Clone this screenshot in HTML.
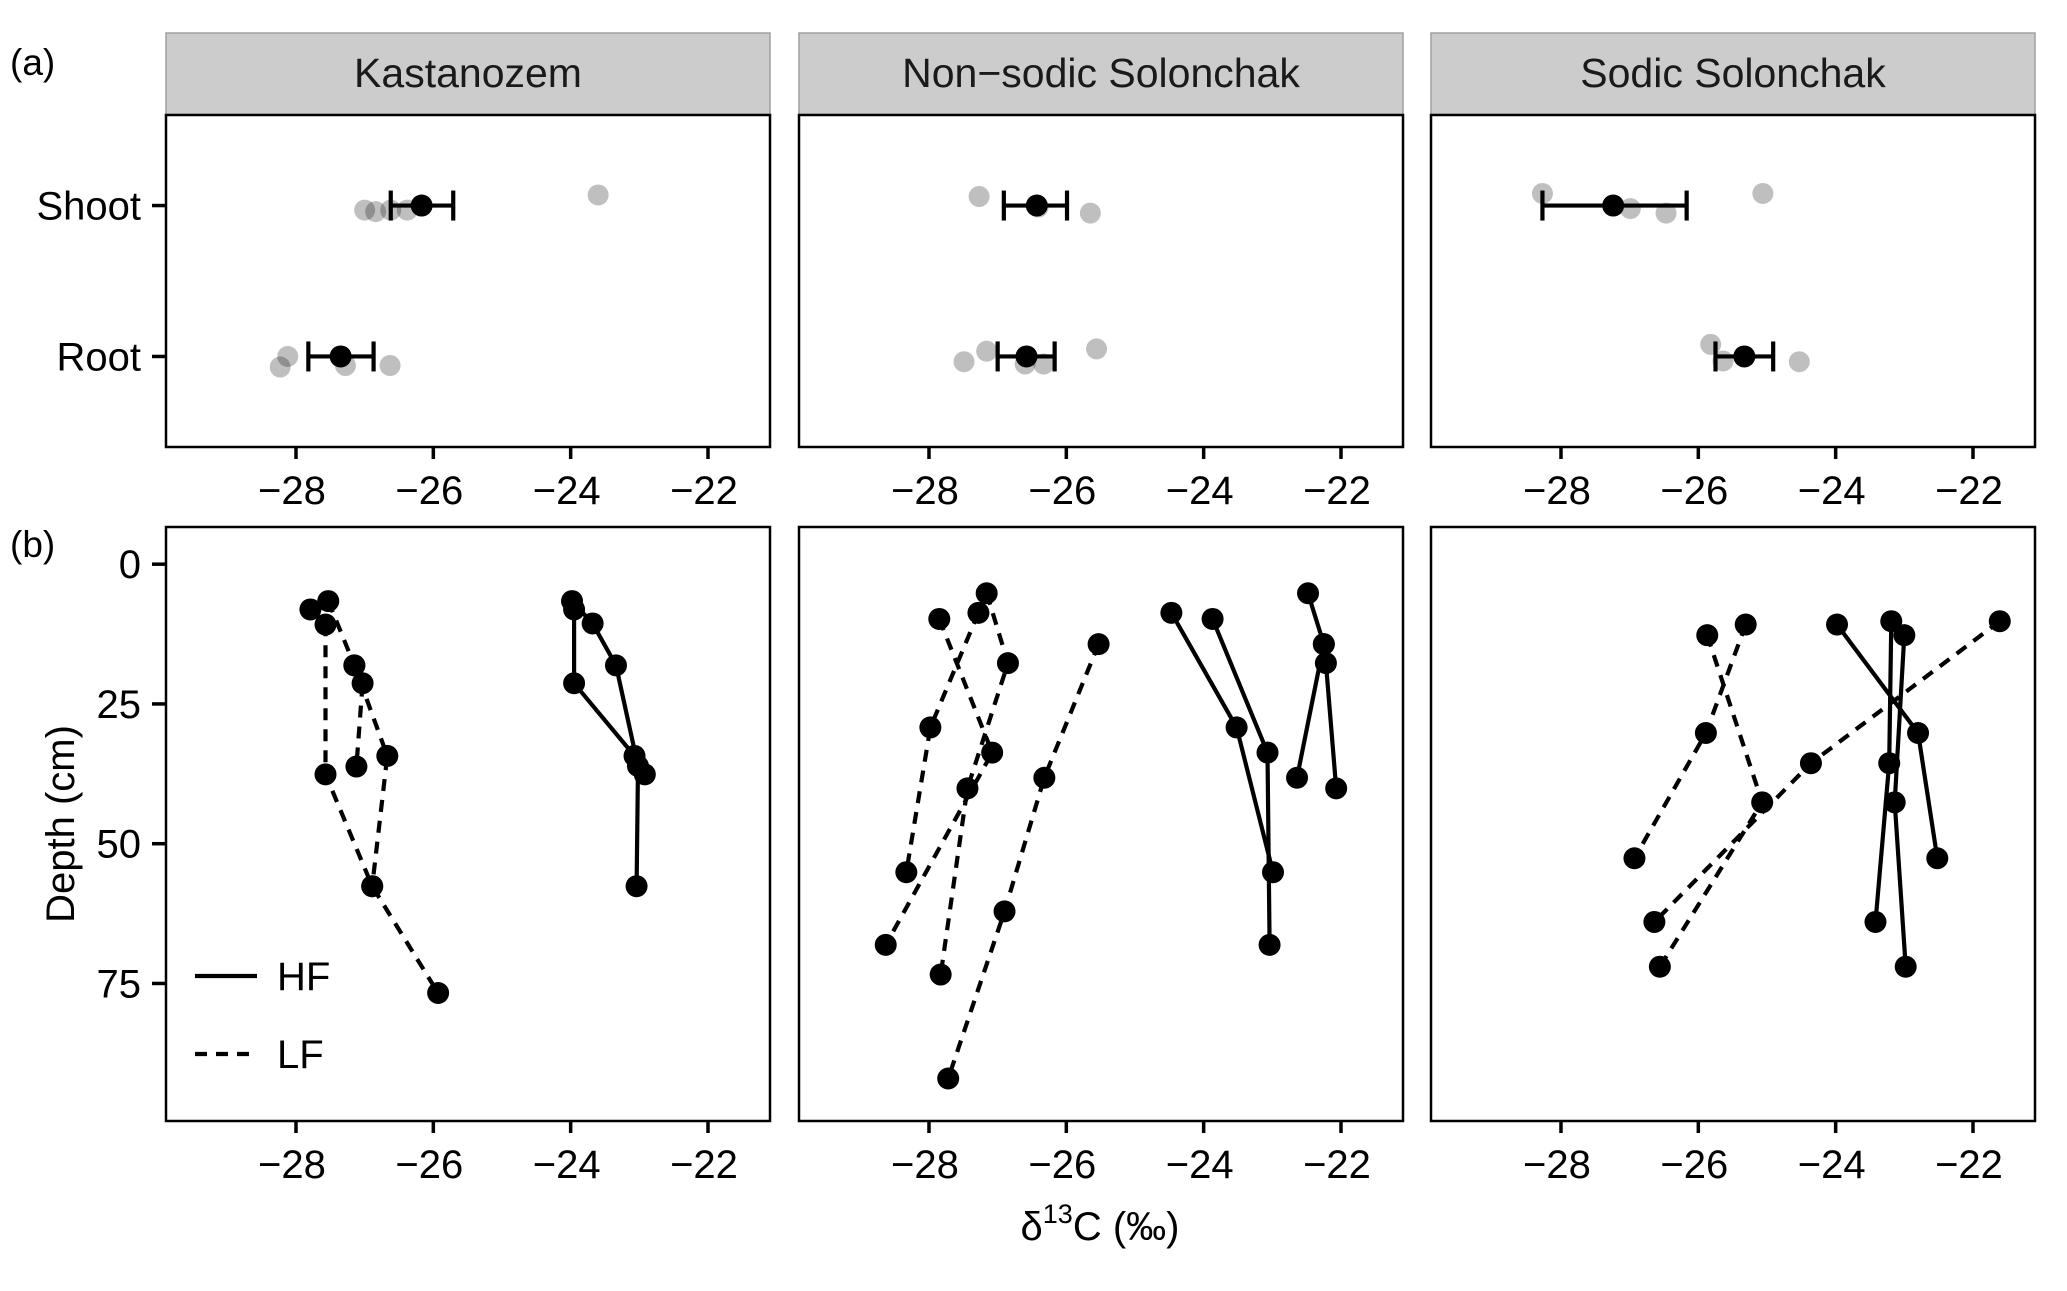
<!DOCTYPE html>
<html><head><meta charset="utf-8"><style>
html,body{margin:0;padding:0;background:#fff}
svg{display:block}
text{font-family:"Liberation Sans",Arial,sans-serif}
</style></head><body>
<svg id="chart" width="2067" height="1291" viewBox="0 0 2067 1291" xmlns="http://www.w3.org/2000/svg"></svg>
<script>
const soils = ["Kastanozem", "Non\u2212sodic Solonchak", "Sodic Solonchak"];
const xTicks = [-28, -26, -24, -22];
const depthTicks = [0, 25, 50, 75];
const organs = ["Root", "Shoot"];
// panel (a): mean and error bar per soil [root, shoot]
const meanVals = [[-27.35, -26.17], [-26.58, -26.43], [-25.33, -27.24]];
const barLo = [[-27.82, -26.62], [-27.0, -26.91], [-25.75, -28.27]];
const barHi = [[-26.87, -25.71], [-26.17, -25.99], [-24.91, -26.17]];
// raw replicates: [soil, organIndex, value, jitter (positive = downward)]
const rawPts = [
 [0,1,-27.0,0.03],[0,1,-26.84,0.04],[0,1,-26.62,0.03],[0,1,-26.38,0.03],[0,1,-23.6,-0.07],
 [0,0,-28.12,0.0],[0,0,-28.23,0.07],[0,0,-27.28,0.06],[0,0,-26.63,0.06],
 [1,1,-27.27,-0.06],[1,1,-26.41,0.01],[1,1,-25.65,0.05],
 [1,0,-27.49,0.035],[1,0,-27.16,-0.035],[1,0,-26.60,0.05],[1,0,-26.33,0.05],[1,0,-25.56,-0.05],
 [2,1,-28.27,-0.08],[2,1,-26.99,0.02],[2,1,-26.47,0.05],[2,1,-25.06,-0.08],
 [2,0,-25.82,-0.08],[2,0,-25.64,0.03],[2,0,-24.53,0.035]
];
// panel (b): depth profiles [soil, type, [[d13C, depth],...]]
const profiles = [
 [0,"HF",[[-23.95,8.1],[-23.95,21.3],[-23.07,34.3],[-22.92,37.6]]],
 [0,"HF",[[-23.98,6.6],[-23.68,10.6],[-23.34,18.1],[-23.02,36.1],[-23.04,57.6]]],
 [0,"LF",[[-27.53,6.6],[-27.15,18.1],[-26.67,34.3],[-26.89,57.6]]],
 [0,"LF",[[-27.15,18.1],[-27.03,21.3],[-27.12,36.2]]],
 [0,"LF",[[-27.79,8.1],[-27.57,10.8],[-27.57,37.6],[-26.89,57.6],[-25.93,76.7]]],
 [1,"LF",[[-27.85,9.8],[-27.08,33.7],[-28.63,68.1]]],
 [1,"LF",[[-27.16,5.2],[-26.85,17.7],[-27.44,40.1],[-27.83,73.4]]],
 [1,"LF",[[-27.28,8.7],[-27.98,29.2],[-28.33,55.1]]],
 [1,"LF",[[-25.53,14.3],[-26.32,38.2],[-26.90,62.1],[-27.72,92.0]]],
 [1,"HF",[[-24.47,8.7],[-23.52,29.2],[-22.99,55.1]]],
 [1,"HF",[[-23.87,9.8],[-23.07,33.7],[-23.04,68.1]]],
 [1,"HF",[[-22.48,5.2],[-22.25,14.3],[-22.22,17.7],[-22.07,40.1]]],
 [1,"HF",[[-22.25,14.3],[-22.64,38.2]]],
 [2,"LF",[[-25.31,10.8],[-25.89,30.2],[-26.93,52.6]]],
 [2,"LF",[[-25.87,12.7],[-25.07,42.6],[-26.56,72.0]]],
 [2,"LF",[[-21.61,10.2],[-24.36,35.6],[-26.64,64.0]]],
 [2,"HF",[[-23.98,10.8],[-22.80,30.2],[-22.52,52.6]]],
 [2,"HF",[[-23.19,10.2],[-23.22,35.6],[-23.42,64.0]]],
 [2,"HF",[[-23.00,12.7],[-23.14,42.6],[-22.98,72.0]]]
];

const NS="http://www.w3.org/2000/svg";
const svg=document.getElementById('chart');
function mk(tag,attrs,parent){const e=document.createElementNS(NS,tag);for(const k in attrs)e.setAttribute(k,attrs[k]);(parent||svg).appendChild(e);return e;}
const panelLeft=[166,799,1431], panelW=604;
const xMin=-29.893, xMax=-21.097;
function xs(p,v){return panelLeft[p]+(v-xMin)/(xMax-xMin)*panelW;}
const aTop=115,aBot=447;
function ys_a(c){return aBot-(c-0.4)/2.2*(aBot-aTop);} // Root=1, Shoot=2
const bTop=527,bBot=1121,dMin=-6.65,dMax=99.6;
function ys_b(d){return bTop+(d-dMin)/(dMax-dMin)*(bBot-bTop);}
const FS=40, LW=4.2, DASH='12 9';

let t=mk('text',{x:10,y:75,'font-size':37});t.textContent='(a)';

t=mk('text',{x:10,y:557,'font-size':37});t.textContent='(b)';


for(let p=0;p<3;p++){
  const L=panelLeft[p];
  const strip=mk('rect',{x:L,y:33,width:panelW,height:82,fill:'#cccccc',stroke:'#a0a0a0','stroke-width':1.5});
  
  t=mk('text',{x:L+panelW/2,y:87,'font-size':41,'text-anchor':'middle',fill:'#1a1a1a'});t.textContent=soils[p];
  
  let r=mk('rect',{x:L,y:aTop,width:panelW,height:aBot-aTop,fill:'#fff',stroke:'#000','stroke-width':2.5});
  
  r=mk('rect',{x:L,y:bTop,width:panelW,height:bBot-bTop,fill:'#fff',stroke:'#000','stroke-width':2.5});
  
  for(const bot of [aBot,bBot]){
    for(const v of xTicks){
      const x=xs(p,v);
      const l=mk('line',{x1:x,x2:x,y1:bot+1,y2:bot+12,stroke:'#000','stroke-width':3.5});
      
      const tt=mk('text',{x:x-4,y:bot+57,'font-size':FS,'text-anchor':'middle'});tt.textContent='\u2212'+Math.abs(v);
      
    }
  }
}
organs.forEach((o,i)=>{const y=ys_a(i+1);
  const l=mk('line',{x1:152,x2:166,y1:y,y2:y,stroke:'#000','stroke-width':3.5});
  
  const tt=mk('text',{x:141,y:y+14,'font-size':FS,'text-anchor':'end'});tt.textContent=o;
  });
depthTicks.forEach(d=>{const y=ys_b(d);
  const l=mk('line',{x1:152,x2:166,y1:y,y2:y,stroke:'#000','stroke-width':3.5});
  
  const tt=mk('text',{x:141,y:y+14,'font-size':FS,'text-anchor':'end'});tt.textContent=String(d);
  });
t=mk('text',{x:0,y:0,'font-size':FS,'text-anchor':'middle',transform:'translate(74,824) rotate(-90)'});t.textContent='Depth (cm)';

t=mk('text',{x:1100,y:1240,'font-size':FS,'text-anchor':'middle'});
t.innerHTML='\u03b4<tspan font-size="27" dy="-17">13</tspan><tspan dy="17">C (\u2030)</tspan>';


rawPts.forEach(r=>{const c=mk('circle',{cx:xs(r[0],r[2]),cy:ys_a(r[1]+1-r[3]),r:10.5,fill:'#000','fill-opacity':0.25});
  });
for(let p=0;p<3;p++)for(let i=0;i<2;i++){
  const y=ys_a(i+1),x1=xs(p,barLo[p][i]),x2=xs(p,barHi[p][i]);
  const g=mk('g',{stroke:'#000','stroke-width':LW});
  
  mk('line',{x1:x1,x2:x2,y1:y,y2:y},g);mk('line',{x1:x1,x2:x1,y1:y-15,y2:y+15},g);mk('line',{x1:x2,x2:x2,y1:y-15,y2:y+15},g);
  const c=mk('circle',{cx:xs(p,meanVals[p][i]),cy:y,r:11,fill:'#000'});
  
}
profiles.forEach(pr=>{const [p,type,pts]=pr;
  const d=pts.map((q,i)=>(i?'L':'M')+xs(p,q[0]).toFixed(1)+' '+ys_b(q[1]).toFixed(1)).join(' ');
  const path=mk('path',{d:d,fill:'none',stroke:'#000','stroke-width':LW});
  if(type==='LF')path.setAttribute('stroke-dasharray',DASH);
  
  
});
profiles.forEach(pr=>{const [p,type,pts]=pr;pts.forEach(q=>{
  const c=mk('circle',{cx:xs(p,q[0]),cy:ys_b(q[1]),r:11,fill:'#000'});
  });});
let lg=mk('g',{});
let ll=mk('line',{x1:195,x2:257,y1:976,y2:976,stroke:'#000','stroke-width':LW},lg);

t=mk('text',{x:277,y:990,'font-size':FS},lg);t.textContent='HF';

ll=mk('line',{x1:195,x2:257,y1:1054,y2:1054,stroke:'#000','stroke-width':LW,'stroke-dasharray':DASH},lg);

t=mk('text',{x:277,y:1068,'font-size':FS},lg);t.textContent='LF';

</script>
</body></html>
